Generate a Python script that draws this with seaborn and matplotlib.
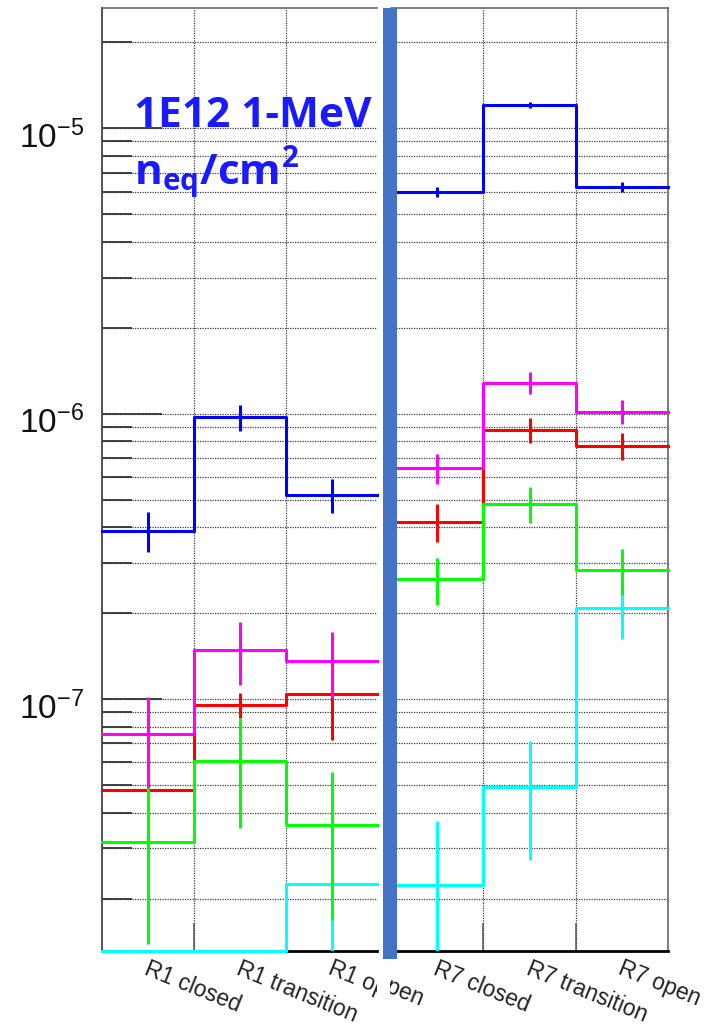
import numpy as np
import pandas as pd
import matplotlib
matplotlib.use("Agg")
import matplotlib.pyplot as plt
import seaborn as sns
from matplotlib.ticker import LogLocator, NullFormatter, LogFormatterSciNotation
from matplotlib.patches import Rectangle
from matplotlib.transforms import Bbox, TransformedBbox, offset_copy, ScaledTranslation

# ---------------- data ----------------
left_categories = ["R1 closed", "R1 transition", "R1 open"]
right_categories = ["R7 closed", "R7 transition", "R7 open"]
right_tail_label = "R6 open"          # only its tail "pen" shows after the splice

left_blue = [3.89e-7, 9.7e-7, 5.21e-7]
left_blue_err = [6.2e-8, 9.9e-8, 7.1e-8]
left_magenta = [7.55e-8, 1.49e-7, 1.36e-7]
left_magenta_err = [2.65e-8, 3.7e-8, 3.55e-8]
left_red = [4.79e-8, 9.53e-8, 1.04e-7]
left_red_err = [1.4e-8, 9.5e-9, 3.2e-8]
left_green = [3.15e-8, 6.05e-8, 3.61e-8]
left_green_err = [1.76e-8, 2.52e-8, 1.93e-8]
left_cyan = [0.0, 0.0, 2.25e-8]
left_cyan_err = [0.0, 0.0, 1.58e-8]

right_blue = [5.98e-6, 1.207e-5, 6.21e-6]
right_blue_err = [2.45e-7, 2.9e-7, 2.5e-7]
right_magenta = [6.45e-7, 1.284e-6, 1.016e-6]
right_magenta_err = [7.7e-8, 1.16e-7, 9.9e-8]
right_red = [4.18e-7, 8.77e-7, 7.72e-7]
right_red_err = [6.3e-8, 8.8e-8, 8.5e-8]
right_green = [2.63e-7, 4.83e-7, 2.83e-7]
right_green_err = [5.0e-8, 7.0e-8, 5.2e-8]
right_cyan = [2.24e-8, 4.93e-8, 2.08e-7]
right_cyan_err = [1.5e-8, 2.2e-8, 4.6e-8]

annotation_line1 = "1E12 1-MeV"
annotation_line2 = r"$\mathdefault{n_{eq}/cm^{2}}$"

y_min, y_max = 1.31e-8, 2.64e-5

# draw order (bottom -> top) and colours
series_order = ["red", "cyan", "green", "magenta", "blue"]
series_colors = {"red": "#ff0000", "cyan": "#00ffff", "green": "#00ff00",
                 "magenta": "#ff00ff", "blue": "#0000ff"}

left_data = {"blue": (left_blue, left_blue_err), "magenta": (left_magenta, left_magenta_err),
             "red": (left_red, left_red_err), "green": (left_green, left_green_err),
             "cyan": (left_cyan, left_cyan_err)}
right_data = {"blue": (right_blue, right_blue_err), "magenta": (right_magenta, right_magenta_err),
              "red": (right_red, right_red_err), "green": (right_green, right_green_err),
              "cyan": (right_cyan, right_cyan_err)}

# ---------------- style ----------------
plt.rcParams["font.family"] = ["Liberation Sans", "DejaVu Sans"]

W, H = 709, 1025
fig = plt.figure(figsize=(W / 100, H / 100), dpi=100)
fig.patch.set_facecolor("white")


def px_axes(l, t, r, b):
    return fig.add_axes([l / W, 1 - b / H, (r - l) / W, (b - t) / H])


axL = px_axes(102, 8, 377, 951)
axR = px_axes(391, 8, 668.3, 951)

LW = 2.2
GRID = dict(ls=(0, (1, 1)), lw=0.9, color="#3c3c3c")


def draw_panel(ax, cats, data, xmax):
    n = len(cats)
    centers = np.arange(n) + 0.5
    for z, name in enumerate(series_order):
        vals, errs = data[name]
        vals = np.asarray(vals, float)
        errs = np.asarray(errs, float)
        shown = np.where(vals > 0, vals, y_min)
        edges = np.arange(n + 1, dtype=float)
        edges[-1] = min(edges[-1], xmax)
        df = pd.DataFrame({"x": edges, "y": np.append(shown, shown[-1])})
        sns.lineplot(data=df, x="x", y="y", ax=ax, estimator=None, sort=True,
                     drawstyle="steps-post", color=series_colors[name], lw=LW,
                     clip_on=False, zorder=3 + z, legend=False)
        m = vals > 0
        ax.errorbar(centers[m], vals[m], yerr=errs[m], fmt="none",
                    ecolor=series_colors[name], elinewidth=LW, capsize=0,
                    zorder=3 + z)
    ax.set_yscale("log")
    ax.set_ylim(y_min, y_max)
    ax.set_xlim(0, xmax)
    ax.set_xticks(np.arange(1, n))
    ax.set_xlabel("")
    ax.set_ylabel("")
    ax.yaxis.set_major_locator(LogLocator(base=10, numticks=20))
    ax.yaxis.set_minor_locator(LogLocator(base=10, subs=np.arange(2, 10), numticks=20))
    ax.yaxis.set_major_formatter(LogFormatterSciNotation())
    ax.yaxis.set_minor_formatter(NullFormatter())
    ax.set_axisbelow(True)
    ax.grid(True, which="both", axis="y", **GRID)
    ax.grid(True, which="major", axis="x", **GRID)
    ax.tick_params(axis="x", direction="in", length=20, width=1.1, color="#555555",
                   labelbottom=False)
    for s in ax.spines.values():
        s.set_zorder(2.5)
    ax.spines["bottom"].set_color("black")
    ax.spines["bottom"].set_linewidth(2.0)
    ax.spines["top"].set_color("#666666")
    ax.spines["top"].set_linewidth(1.2)


draw_panel(axL, left_categories, left_data, 275 / 92)
draw_panel(axR, right_categories, right_data, 3)

axL.spines["right"].set_visible(False)
axL.spines["left"].set_color("#444444")
axL.spines["left"].set_linewidth(1.3)
axL.tick_params(axis="y", which="major", direction="in", length=43, width=1.3,
                color="#333333", labelsize=24, pad=13, labelcolor="#111111")
axL.tick_params(axis="y", which="minor", direction="in", length=21.6, width=1.3,
                color="#333333")
axR.spines["left"].set_visible(False)
axR.spines["right"].set_color("#666666")
axR.spines["right"].set_linewidth(1.2)
axR.tick_params(axis="y", which="both", length=0, labelleft=False)

# nudge the y tick labels down a little, as in the original
shift = ScaledTranslation(0, -6 / 100, fig.dpi_scale_trans)
for lab in axL.get_yticklabels():
    lab.set_transform(lab.get_transform() + shift)

# ---------------- rotated category labels ----------------
clip_left = TransformedBbox(Bbox([[0, 0], [377 / W, 1]]), fig.transFigure)
clip_right = TransformedBbox(Bbox([[390 / W, 0], [1, 1]]), fig.transFigure)


def put_label(ax, xpos, s, clip=None):
    tr = offset_copy(ax.get_xaxis_transform(), fig=fig, x=2, y=-6, units="dots")
    t = fig.text(xpos, 0, s, transform=tr, rotation=-22, rotation_mode="anchor",
                 ha="left", va="top", fontsize=16.5, color="#222222")
    if clip is not None:
        t.set_clip_on(True)
        t.set_clip_box(clip)
    return t


for i, c in enumerate(left_categories):
    put_label(axL, i + 0.5, c, clip_left if i == len(left_categories) - 1 else None)
put_label(axR, -0.5, right_tail_label, clip_right)
for i, c in enumerate(right_categories):
    put_label(axR, i + 0.5, c)

# ---------------- splice bar ----------------
fig.add_artist(Rectangle((383 / W, 1 - 959 / H), 14 / W, (959 - 7.5) / H,
                         transform=fig.transFigure, facecolor="#4472C4",
                         edgecolor="none", zorder=5))

# ---------------- annotation ----------------
ann_kw = dict(fontsize=30.5, fontweight="bold", family=["Open Sans", "DejaVu Sans"],
              color="#1a1aff", ha="left", va="baseline", zorder=6)
fig.text(134 / W, 1 - 126.7 / H, annotation_line1, **ann_kw)
fig.text(134 / W, 1 - 185 / H, annotation_line2, **ann_kw)

fig.savefig("out.png", dpi=100, facecolor="white")
